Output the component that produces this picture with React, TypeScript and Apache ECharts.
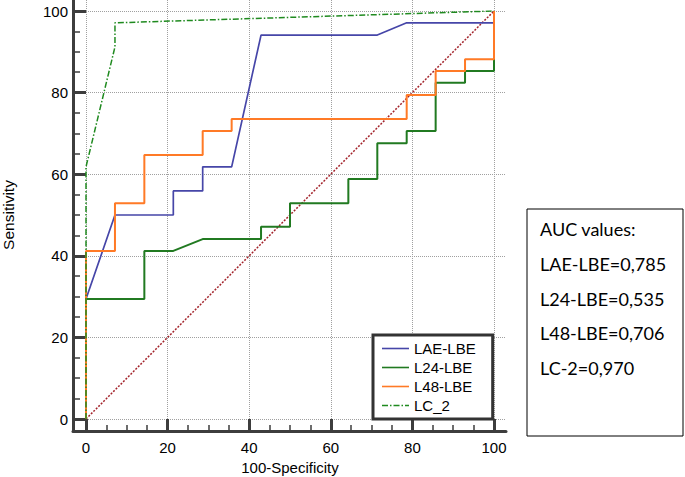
import React, { useEffect, useRef } from "react";
import * as echarts from "echarts";

// ---- data ----
const seriesNames = ["LAE-LBE", "L24-LBE", "L48-LBE", "LC_2"];

const laeX = [0, 0, 7.1, 21.4, 21.4, 28.6, 28.6, 35.7, 42.9, 71.4, 78.6, 100, 100];
const laeY = [0, 29.4, 50.0, 50.0, 55.9, 55.9, 61.8, 61.8, 94.1, 94.1, 97.1, 97.1, 100];

const l24X = [0, 0, 14.3, 14.3, 21.4, 28.6, 42.9, 42.9, 50.0, 50.0, 64.3, 64.3, 71.4, 71.4, 78.6, 78.6, 85.7, 85.7, 92.9, 92.9, 100, 100];
const l24Y = [0, 29.4, 29.4, 41.2, 41.2, 44.1, 44.1, 47.1, 47.1, 52.9, 52.9, 58.8, 58.8, 67.6, 67.6, 70.6, 70.6, 82.4, 82.4, 85.3, 85.3, 100];

const l48X = [0, 0, 7.1, 7.1, 14.3, 14.3, 28.6, 28.6, 35.7, 35.7, 78.6, 78.6, 85.7, 85.7, 92.9, 92.9, 100, 100];
const l48Y = [0, 41.2, 41.2, 52.9, 52.9, 64.7, 64.7, 70.6, 70.6, 73.5, 73.5, 79.4, 79.4, 85.3, 85.3, 88.2, 88.2, 100];

const lc2X = [0, 0, 7.1, 7.1, 100];
const lc2Y = [0, 61.8, 91.2, 97.1, 100];

const diagX = [0, 100];
const diagY = [0, 100];

const aucLines = ["AUC values:", "LAE-LBE=0,785", "L24-LBE=0,535", "L48-LBE=0,706", "LC-2=0,970"];

const zip = (xs: number[], ys: number[]) => xs.map((x, i) => [x, ys[i]]);

const AXIS_COLOR = "#3d3d3d";
const GRID_COLOR = "#a0a0a0";
const FONT = "Liberation Sans";

const SOLID_ICON = "path://M0,0h27v1.6h-27z";
const DASHDOT_ICON =
  "path://M0,0h6v1.5h-6zM8,0h1.5v1.5h-1.5zM11.5,0h6v1.5h-6zM19.5,0h1.5v1.5h-1.5zM23,0h4v1.5h-4z";

export default function App() {
  const ref = useRef<HTMLDivElement>(null);

  useEffect(() => {
    if (!ref.current) return;
    const chart = echarts.init(ref.current, undefined, { renderer: "svg" });

    const hiddenAxis = (gridIndex: number) => ({
      type: "value",
      gridIndex,
      min: 0,
      max: 1,
      show: false,
    });

    const option: any = {
      animation: false,
      backgroundColor: "#ffffff",
      grid: [
        { left: 86, top: 11, width: 408, height: 408, outerBoundsMode: "none", containLabel: false }, // data
        { left: 86, top: 11, width: 420, height: 408, outerBoundsMode: "none", containLabel: false }, // horizontal grid lines
        { left: 86, top: 0, width: 408, height: 431, outerBoundsMode: "none", containLabel: false }, // vertical grid lines
        { left: 73, top: 0, width: 433, height: 431, outerBoundsMode: "none", containLabel: false }, // axis frame
      ],
      xAxis: [
        {
          type: "value",
          gridIndex: 0,
          min: 0,
          max: 100,
          interval: 20,
          offset: 12,
          axisLine: { show: false, onZero: false },
          axisTick: { show: true, inside: true, length: 12, lineStyle: { color: AXIS_COLOR, width: 3 } },
          minorTick: { show: true, splitNumber: 4, length: 6, lineStyle: { color: AXIS_COLOR, width: 1.5 } },
          axisLabel: { margin: 9, fontSize: 15, color: "#000", fontFamily: FONT },
          splitLine: { show: false },
          name: "100-Specificity",
          nameLocation: "middle",
          nameGap: 29,
          nameTextStyle: { fontSize: 15, color: "#000", fontFamily: FONT },
        },
        hiddenAxis(1),
        {
          type: "value",
          gridIndex: 2,
          min: 0,
          max: 100,
          interval: 20,
          axisLine: { show: false },
          axisTick: { show: false },
          axisLabel: { show: false },
          splitLine: { show: true, lineStyle: { color: GRID_COLOR, type: "dotted", width: 1 } },
        },
        {
          type: "value",
          gridIndex: 3,
          min: 0,
          max: 1,
          axisLine: { show: true, onZero: false, lineStyle: { color: AXIS_COLOR, width: 3 } },
          axisTick: { show: false },
          axisLabel: { show: false },
          splitLine: { show: false },
        },
      ],
      yAxis: [
        {
          type: "value",
          gridIndex: 0,
          min: 0,
          max: 100,
          interval: 20,
          offset: 13,
          axisLine: { show: false, onZero: false },
          axisTick: { show: true, inside: true, length: 13, lineStyle: { color: AXIS_COLOR, width: 3 } },
          minorTick: { show: true, splitNumber: 4, length: 7, lineStyle: { color: AXIS_COLOR, width: 1.5 } },
          axisLabel: { margin: 5, fontSize: 15, color: "#000", fontFamily: FONT },
          splitLine: { show: false },
          name: "Sensitivity",
          nameLocation: "middle",
          nameGap: 57,
          nameTextStyle: { fontSize: 15.5, color: "#000", fontFamily: FONT },
        },
        {
          type: "value",
          gridIndex: 1,
          min: 0,
          max: 100,
          interval: 20,
          axisLine: { show: false },
          axisTick: { show: false },
          axisLabel: { show: false },
          splitLine: { show: true, lineStyle: { color: GRID_COLOR, type: "dotted", width: 1 } },
        },
        hiddenAxis(2),
        {
          type: "value",
          gridIndex: 3,
          min: 0,
          max: 1,
          axisLine: { show: true, onZero: false, lineStyle: { color: AXIS_COLOR, width: 3 } },
          axisTick: { show: false },
          axisLabel: { show: false },
          splitLine: { show: false },
        },
      ],
      legend: {
        data: seriesNames.map((n) => ({ name: n, icon: n === "LC_2" ? DASHDOT_ICON : SOLID_ICON })),
        orient: "vertical",
        left: 373,
        top: 335,
        padding: [6, 17, 6, 9],
        itemWidth: 27,
        itemHeight: 14,
        itemGap: 4,
        borderColor: "#333333",
        borderWidth: 3,
        backgroundColor: "#ffffff",
        textStyle: { fontSize: 15, color: "#000", fontFamily: FONT },
      },
      graphic: [
        {
          type: "rect",
          shape: { x: 527, y: 209, width: 156, height: 227 },
          style: { fill: "#ffffff", stroke: "#000000", lineWidth: 1 },
        },
        ...aucLines.map((t, i) => ({
          type: "text",
          x: 540,
          y: 229 + i * 34.8,
          style: {
            text: t,
            fontSize: 18,
            fontFamily: "Lato",
            fill: "#000000",
            verticalAlign: "middle",
            align: "left",
          },
        })),
      ],
      series: [
        {
          name: "diagonal",
          type: "line",
          xAxisIndex: 0,
          yAxisIndex: 0,
          data: zip(diagX, diagY),
          symbol: "none",
          lineStyle: { color: "#a3232b", width: 1.5, type: [2, 1.5] },
          silent: true,
          z: 1,
        },
        {
          name: "LAE-LBE",
          type: "line",
          data: zip(laeX, laeY),
          symbol: "none",
          lineStyle: { color: "#4646a8", width: 1.7 },
          itemStyle: { color: "#4646a8" },
        },
        {
          name: "L24-LBE",
          type: "line",
          data: zip(l24X, l24Y),
          symbol: "none",
          lineStyle: { color: "#217a21", width: 2 },
          itemStyle: { color: "#217a21" },
        },
        {
          name: "L48-LBE",
          type: "line",
          data: zip(l48X, l48Y),
          symbol: "none",
          lineStyle: { color: "#ff7a26", width: 2 },
          itemStyle: { color: "#ff7a26" },
        },
        {
          name: "LC_2",
          type: "line",
          data: zip(lc2X, lc2Y),
          symbol: "none",
          lineStyle: { color: "#1f8a1f", width: 1.5, type: [6, 2, 1.5, 2] },
          itemStyle: { color: "#1f8a1f" },
        },
      ],
    };

    chart.setOption(option);
    return () => chart.dispose();
  }, []);

  return (
    <div
      ref={ref}
      style={{ position: "fixed", left: 0, top: 0, width: 685, height: 477, background: "#fff" }}
    />
  );
}
